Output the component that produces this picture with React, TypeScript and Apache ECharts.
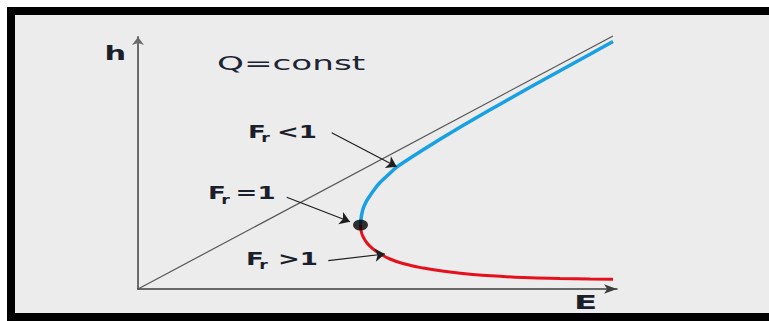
import { useEffect, useRef } from "react";
import * as echarts from "echarts";

// Specific energy diagram: depth h against specific energy E for constant discharge.
const DIAGONAL_E = [0, 47.5];
const DIAGONAL_H = [0, 25.3];

// Subcritical branch (Fr < 1), from the critical point upward
const SUB_E = [22.25, 22.33, 22.47, 22.75, 23.13, 23.6, 24.13, 25.0, 25.93, 27.7, 29.2, 31.2, 33.7, 36.2, 39.2, 42.2, 45.2, 47.5];
const SUB_H = [6.4, 7.2, 7.9, 8.6, 9.23, 9.9, 10.57, 11.4, 12.23, 13.4, 14.35, 15.57, 17.05, 18.48, 20.18, 21.83, 23.47, 24.75];

// Supercritical branch (Fr > 1), from the critical point downward
const SUPER_E = [22.25, 22.32, 22.55, 22.9, 23.4, 24.0, 25.2, 26.7, 28.5, 31.0, 33.5, 36.2, 38.5, 42.2, 45.2, 47.5];
const SUPER_H = [6.4, 5.75, 5.15, 4.6, 4.1, 3.65, 3.0, 2.5, 2.1, 1.72, 1.45, 1.27, 1.15, 1.05, 1.0, 0.97];

const CRITICAL_POINT = [22.25, 6.4];

// Annotation arrows: [start, end] in (E, h)
const ARROW_FR_LT = [[19.37, 15.63], [25.87, 12.23]];
const ARROW_FR_EQ = [[14.87, 9.17], [21.2, 6.73]];
const ARROW_FR_GT = [[19.03, 2.83], [24.7, 3.5]];

const FROUDE_RELATIONS = ["<1", "=1", ">1"];

const zip = (xs: number[], ys: number[]) => xs.map((x, i) => [x, ys[i]]);

const FONT = '"DejaVu Sans", sans-serif';
const INK = "#1b1f2b";

function froudeLabel(x: number, y: number, rel: string, relX: number) {
  return {
    type: "group",
    x,
    y,
    scaleX: 1.45,
    z: 100,
    children: [
      { type: "text", x: 0, y: 0, style: { text: "F", font: `bold 18px ${FONT}`, fill: INK, align: "left", verticalAlign: "middle" } },
      { type: "text", x: 9.2, y: 6.5, style: { text: "r", font: `bold 12px ${FONT}`, fill: INK, align: "left", verticalAlign: "middle" } },
      { type: "text", x: relX, y: 0, style: { text: rel, font: `bold 18px ${FONT}`, fill: INK, align: "left", verticalAlign: "middle" } },
    ],
  };
}

export default function App() {
  const ref = useRef<HTMLDivElement>(null);

  useEffect(() => {
    if (!ref.current) return;
    const chart = echarts.init(ref.current, null, { renderer: "svg" });

    chart.setOption({
      animation: false,
      backgroundColor: "#ffffff",
      grid: { left: 138, right: 152, top: 37, bottom: 32, containLabel: false },
      xAxis: {
        type: "value",
        min: 0,
        max: 47.9,
        axisLine: {
          show: true,
          symbol: ["none", "arrow"],
          symbolSize: [7, 13],
          lineStyle: { color: "#3d3d3d", width: 1.5 },
        },
        axisTick: { show: false },
        axisLabel: { show: false },
        splitLine: { show: false },
      },
      yAxis: {
        type: "value",
        min: 0,
        max: 25.2,
        axisLine: {
          show: true,
          symbol: ["none", "arrow"],
          symbolSize: [9, 8],
          lineStyle: { color: "#6b6b6b", width: 2 },
        },
        axisTick: { show: false },
        axisLabel: { show: false },
        splitLine: { show: false },
      },
      series: [
        {
          name: "h = E",
          type: "line",
          data: zip(DIAGONAL_E, DIAGONAL_H),
          showSymbol: false,
          clip: false,
          lineStyle: { color: "#555555", width: 1.2 },
          z: 2,
        },
        {
          name: "Fr < 1",
          type: "line",
          data: zip(SUB_E, SUB_H),
          smooth: 0.35,
          showSymbol: false,
          clip: false,
          lineStyle: { color: "#18a0e4", width: 3.5 },
          z: 3,
        },
        {
          name: "Fr > 1",
          type: "line",
          data: zip(SUPER_E, SUPER_H),
          smooth: 0.5,
          showSymbol: false,
          clip: false,
          lineStyle: { color: "#e4111c", width: 3 },
          z: 3,
        },
        {
          name: "Fr = 1",
          type: "scatter",
          data: [CRITICAL_POINT],
          symbol: "path://M1 0A1 1 0 1 1 1 2A1 1 0 1 1 1 0Z",
          symbolSize: [15, 11],
          itemStyle: { color: "#000000" },
          z: 6,
        },
        {
          name: "arrows",
          type: "lines",
          coordinateSystem: "cartesian2d",
          data: [ARROW_FR_LT, ARROW_FR_EQ, ARROW_FR_GT].map((c) => ({ coords: c })),
          symbol: ["none", "arrow"],
          symbolSize: [6, 10],
          lineStyle: { color: "#1e1e1e", width: 1.2, opacity: 1 },
          z: 7,
        },
      ],
      graphic: [
        { type: "rect", z: -10, silent: true, shape: { x: 7, y: 7, width: 800, height: 314 }, style: { fill: "#000000" } },
        { type: "rect", z: -9, silent: true, shape: { x: 15, y: 15, width: 800, height: 298 }, style: { fill: "#ececec" } },
        {
          type: "text", x: 104.5, y: 53.5, scaleX: 1.6, z: 100,
          style: { text: "h", font: `bold 19px ${FONT}`, fill: INK, align: "left", verticalAlign: "middle" },
        },
        {
          type: "text", x: 574, y: 302.5, scaleX: 1.7, z: 100,
          style: { text: "E", font: `bold 20px ${FONT}`, fill: INK, align: "left", verticalAlign: "middle" },
        },
        {
          type: "text", x: 217, y: 63, scaleX: 1.8, z: 100,
          style: { text: "Q=const", font: `19px ${FONT}`, fill: "#1d2433", align: "left", verticalAlign: "middle" },
        },
        froudeLabel(248, 131.7, FROUDE_RELATIONS[0], 20),
        froudeLabel(208, 193, FROUDE_RELATIONS[1], 19),
        froudeLabel(246, 258.8, FROUDE_RELATIONS[2], 22),
      ],
    });

    return () => chart.dispose();
  }, []);

  return <div ref={ref} style={{ position: "fixed", left: 0, top: 0, width: 769, height: 321 }} />;
}
